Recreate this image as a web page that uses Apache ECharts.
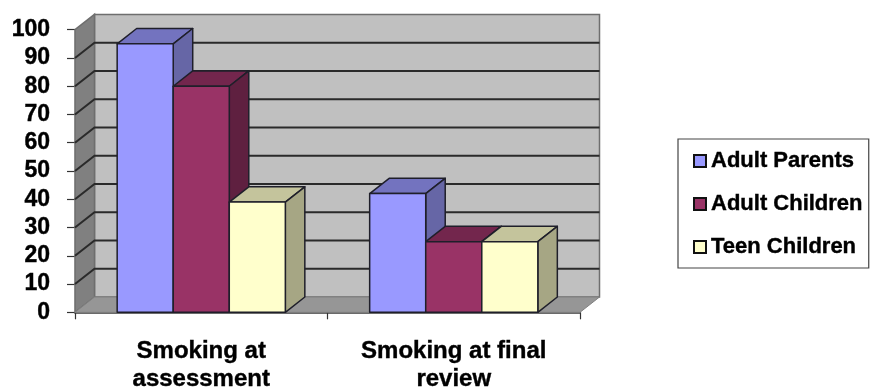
<!DOCTYPE html>
<html>
<head>
<meta charset="utf-8">
<style>html,body{margin:0;padding:0;background:#fff}#c{width:871px;height:387px}</style>
<script src="https://cdn.jsdelivr.net/npm/echarts@6/dist/echarts.min.js"></script>
</head>
<body>
<div id="c"></div>
<script>
// Smoking rates by family group, drawn as a 3D-style clustered column chart.
const categories = ['Smoking at\nassessment', 'Smoking at final\nreview'];
const adultParents = [95, 42];
const adultChildren = [80, 25];
const teenChildren = [39, 25];
const yTicks = [0, 10, 20, 30, 40, 50, 60, 70, 80, 90, 100];

// Pixel offset of the chart's back plane relative to its front plane.
const DEPTH_X = 19.5;
const DEPTH_Y = -15.3;
const BAR_SHARE = 0.222;

const shift = (p) => [p[0] + DEPTH_X, p[1] + DEPTH_Y];

// Back wall, left wall, floor and the gridlines running across them.
function renderWalls(params, api) {
  const v = api.value(0);
  const y = api.coord([0, v])[1];
  const cs = params.coordSys;
  const left = cs.x, right = cs.x + cs.width;
  const fl = [left, y], fr = [right, y];
  const bl = shift(fl), br = shift(fr);
  const children = [];
  const wallLine = { stroke: '#6e6e6e', lineWidth: 1.5 };
  if (v === 0) {
    const top = cs.y;
    const tl = [left, top], tb = shift(tl), trb = shift([right, top]);
    children.push(
      { type: 'polygon', shape: { points: [tb, trb, br, bl] }, style: { fill: '#c0c0c0', ...wallLine } },
      { type: 'polygon', shape: { points: [tl, tb, bl, fl] }, style: { fill: '#808080', ...wallLine } },
      { type: 'polygon', shape: { points: [fl, bl, br, fr] }, style: { fill: '#969696', stroke: '#808080', lineWidth: 1 } }
    );
  } else if (v < 100) {
    const grid = { stroke: '#2a2a2a', lineWidth: 2, fill: 'none' };
    children.push(
      { type: 'polyline', shape: { points: [fl, bl, br] }, style: grid }
    );
  }
  return { type: 'group', children };
}

// One column: front face plus shaded top and side faces.
function makeColumn(slot, front, top, side) {
  return function (params, api) {
    const cat = api.value(0);
    const band = api.size([1, 0])[0];
    const w = band * BAR_SHARE;
    const base = api.coord([cat, 0]);
    const head = api.coord([cat, api.value(1)]);
    const x0 = base[0] + (slot - 1.5) * w;
    const x1 = x0 + w;
    const a = [x0, head[1]], b = [x1, head[1]], c = [x1, base[1]], d = [x0, base[1]];
    const edge = { stroke: '#1f1f2a', lineWidth: 1.5, lineJoin: 'round' };
    return {
      type: 'group',
      children: [
        { type: 'polygon', shape: { points: [a, b, shift(b), shift(a)] }, style: { fill: top, ...edge } },
        { type: 'polygon', shape: { points: [b, c, shift(c), shift(b)] }, style: { fill: side, ...edge } },
        { type: 'polygon', shape: { points: [a, b, c, d] }, style: { fill: front, ...edge } }
      ]
    };
  };
}

function columnSeries(name, values, slot, front, top, side) {
  return {
    type: 'custom',
    name,
    coordinateSystem: 'cartesian2d',
    clip: false,
    encode: { x: 0, y: 1 },
    itemStyle: { color: front, borderColor: '#111', borderWidth: 2 },
    renderItem: makeColumn(slot, front, top, side),
    data: values.map((v, i) => [i, v])
  };
}

const textBase = {
  color: '#000',
  fontFamily: '"Liberation Sans", Arial, sans-serif',
  fontWeight: 'bold',
  textBorderColor: '#000',
  textBorderWidth: 0.4
};

const chart = echarts.init(document.getElementById('c'), null, { renderer: 'canvas' });
chart.setOption({
  animation: false,
  backgroundColor: '#fff',
  grid: { left: 75, top: 29.7, width: 505, height: 282.6, containLabel: false, outerBoundsMode: 'none' },
  legend: {
    orient: 'vertical',
    left: 678,
    top: 139,
    padding: [10, 6, 9, 15],
    itemWidth: 12,
    itemHeight: 12,
    itemGap: 19,
    borderColor: '#444',
    borderWidth: 1.2,
    borderRadius: 0,
    icon: 'rect',
    selectedMode: false,
    data: ['Adult Parents', 'Adult Children', 'Teen Children'],
    textStyle: { ...textBase, fontSize: 22, lineHeight: 24 }
  },
  xAxis: {
    type: 'category',
    data: categories,
    axisLine: { onZero: true, lineStyle: { color: '#3a3a3a', width: 1.5 } },
    axisTick: { show: true, length: 7, lineStyle: { color: '#333', width: 1.2 } },
    axisLabel: { ...textBase, fontSize: 24, lineHeight: 28, margin: 25, interval: 0 },
    splitLine: { show: false }
  },
  yAxis: {
    type: 'value',
    min: 0,
    max: 100,
    interval: 10,
    axisLine: { show: true, lineStyle: { color: '#555', width: 1.2 } },
    axisTick: { show: true, length: 8, lineStyle: { color: '#333', width: 1.2 } },
    axisLabel: { ...textBase, fontSize: 23, margin: 25, padding: [3, 0, 0, 0] },
    splitLine: { show: false }
  },
  series: [
    {
      type: 'custom',
      name: 'walls',
      coordinateSystem: 'cartesian2d',
      clip: false,
      encode: { y: 0 },
      renderItem: renderWalls,
      data: yTicks.map((v) => [v]),
      silent: true
    },
    columnSeries('Adult Parents', adultParents, 0, '#9999ff', '#7373bf', '#6666a6'),
    columnSeries('Adult Children', adultChildren, 1, '#993366', '#73264d', '#5f2040'),
    columnSeries('Teen Children', teenChildren, 2, '#ffffcc', '#c4c49c', '#a6a684')
  ]
});
</script>
</body>
</html>
